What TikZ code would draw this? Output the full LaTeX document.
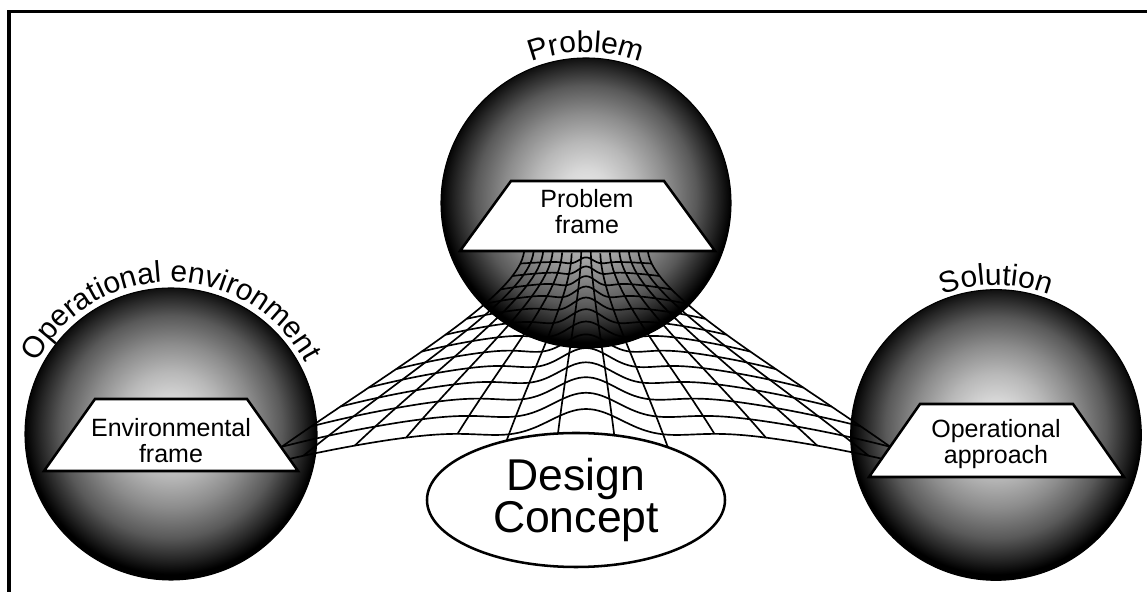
\documentclass[tikz,border=0pt]{standalone}
\usepackage{fontspec}
\setmainfont{Liberation Sans}
\usetikzlibrary{decorations.text,shapes.geometric}
\pgfdeclareradialshading{sphshade}{\pgfpoint{0bp}{2bp}}{%
 color(0bp)=(black!9); color(4bp)=(black!15); color(9bp)=(black!28);
 color(14bp)=(black!45); color(19bp)=(black!65); color(22.5bp)=(black!85);
 color(25bp)=(black); color(50bp)=(black)}
\newcommand\labfont{\fontsize{22.5}{24}\selectfont}
\begin{document}
\begin{tikzpicture}[x=0.75pt,y=0.75pt,
  sphere/.style={circle, shade, shading=sphshade, draw=black, line width=0.8pt, inner sep=0pt, outer sep=0pt},
  frametrap/.style={fill=white, draw=black, line width=1.9pt, line join=miter},
  meshline/.style={draw=black, line width=1.25pt, line join=round},
  ftext/.style={font=\fontsize{18.75}{19.5}\selectfont, align=center, inner sep=0pt},
  declare function={
    bz(\pa,\pb,\pc,\pd,\pe)=(1-\pa)*(1-\pa)*(1-\pa)*\pb+3*(1-\pa)*(1-\pa)*\pa*\pc+3*(1-\pa)*\pa*\pa*\pd+\pa*\pa*\pa*\pe;
    lx(\pa)=bz(\pa,524,518,380,252);
    ly(\pa)=bz(\pa,252,300,375,468);
    yc(\pa)=252+118*\pa+55*\pa*\pa;
    hat(\pa)=(1-2*\pa*\pa)*exp(-\pa*\pa);
    mx(\pa,\pb)=586+\pa*(586-lx(\pb));
    my(\pa,\pb)=592-yc(\pb)-(ly(\pb)-yc(\pb))*\pa*\pa+(3+13*\pb)*hat(\pa/0.2);
  }]
\useasboundingbox (0,0) rectangle (1147,592);
\draw[line width=2.6pt] (9,-10) -- (9,580.5) -- (1160,580.5);

% spheres
\node[sphere, minimum size=219pt] (envs) at (171,158) {};
\node[sphere, minimum size=218pt] (solv) at (996,157) {};
\node[sphere, minimum size=217.5pt] (prob) at (586,389) {};

% mesh
\foreach \k in {0,...,13}{
  \pgfmathsetmacro\uu{-1+2*\k/13}
  \pgfmathsetmacro\vend{ifthenelse(and(\k>4,\k<9),1.15,1)}
  \draw[meshline] plot[smooth, variable=\s, domain=0:\vend, samples=41] ({mx(\uu,\s)},{my(\uu,\s)});
}
\foreach \k in {1,...,13}{
  \pgfmathsetmacro\vv{\k/13}
  \draw[meshline] plot[smooth, variable=\s, domain=-1:1, samples=81] ({mx(\s,\vv)},{my(\s,\vv)});
}

% frames
\draw[frametrap] (44,121) -- (298,121) -- (247,193) -- (95,193) -- cycle;
\draw[frametrap] (460,341) -- (715,341) -- (664,411) -- (511,411) -- cycle;
\draw[frametrap] (869,115) -- (1124,115) -- (1073,188) -- (920,188) -- cycle;

\node[ftext] (envt) at (171,151) {Environmental\\frame};
\node[ftext, font=\fontsize{18.75}{20}\selectfont] (solt) at (996,148) {Operational\\approach};
\node[ftext] (probt) at (587,380) {Problem\\frame};

% design concept
\node[ellipse, draw=black, fill=white, line width=1.9pt, inner sep=0pt,
      minimum width=223.5pt, minimum height=100.5pt, align=center,
      font=\fontsize{33.4}{31.5}\selectfont] (dc) at (576,92) {Design\\Concept};

% curved labels
\path[decorate, decoration={text along path, text align=center, text={|\labfont|Problem}}]
  (prob.center) ++(150:151) arc[start angle=150, end angle=30, radius=151];
\path[decorate, decoration={text along path, text align=center, text={|\labfont|Operational environment}}]
  (envs.center) ++(160:152) arc[start angle=160, end angle=20, radius=152];
\path[decorate, decoration={text along path, text align=center, text={|\labfont|Solution}}]
  (solv.center) ++(150:150) arc[start angle=150, end angle=30, radius=150];
\end{tikzpicture}
\end{document}
